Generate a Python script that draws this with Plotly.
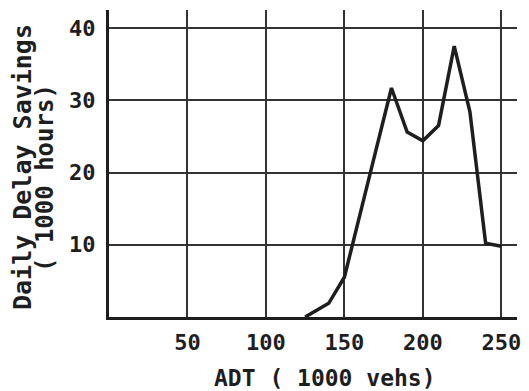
import plotly.graph_objects as go

# Data
adt = [125, 140, 150, 160, 170, 180, 190, 200, 210, 220, 230, 240, 250]
savings = [0.0, 1.9, 5.5, 14.5, 23.0, 31.7, 25.6, 24.4, 26.5, 37.5, 28.4, 10.2, 9.8]

x_ticks = [50, 100, 150, 200, 250]
y_ticks = [10, 20, 30, 40]

x_title = "ADT ( 1000 vehs)"
y_title_1 = "Daily Delay Savings"
y_title_2 = "( 1000 hours)"

FONT = "DejaVu Sans Mono"
INK = "#1e1e1e"

# The page body has an 8px default margin, so the figure is sized to fill
# the remaining 521x383 area of the 529x391 window.
fig = go.Figure()
fig.add_trace(go.Scatter(
    x=adt, y=savings, mode="lines",
    line=dict(color=INK, width=3.5),
    showlegend=False, hoverinfo="skip", cliponaxis=False,
))

fig.update_layout(
    width=521, height=383,
    margin=dict(l=101, r=12, t=2, b=74, autoexpand=False),
    paper_bgcolor="white", plot_bgcolor="white",
    font=dict(family=FONT, size=22, color=INK, weight="bold"),
    xaxis=dict(
        range=[0, 260], tickvals=x_ticks, ticktext=[str(v) for v in x_ticks],
        showgrid=True, gridcolor="#333333", gridwidth=2,
        zeroline=False, showline=True, linecolor=INK, linewidth=3,
        ticks="", ticklabelstandoff=4, automargin=False,
        tickfont=dict(family=FONT, size=22, color=INK, weight="bold"),
    ),
    yaxis=dict(
        range=[0, 42.5], tickvals=y_ticks, ticktext=[str(v) for v in y_ticks],
        showgrid=True, gridcolor="#333333", gridwidth=2,
        zeroline=False, showline=True, linecolor=INK, linewidth=3,
        ticks="", ticklabelstandoff=6, automargin=False,
        tickfont=dict(family=FONT, size=22, color=INK, weight="bold"),
    ),
    annotations=[
        dict(text=x_title, xref="paper", yref="paper",
             x=(325 - 109) / 408, y=-(378 - 317) / 307,
             xanchor="center", yanchor="middle", showarrow=False,
             font=dict(family=FONT, size=23, color=INK, weight="bold")),
        dict(text=y_title_1, xref="paper", yref="paper",
             x=-(109 - 22) / 408, y=(317 - 167) / 307, textangle=-90,
             xanchor="center", yanchor="middle", showarrow=False,
             font=dict(family=FONT, size=25, color=INK, weight="bold")),
        dict(text=y_title_2, xref="paper", yref="paper",
             x=-(109 - 45) / 408, y=(317 - 178) / 307, textangle=-90,
             xanchor="center", yanchor="middle", showarrow=False,
             font=dict(family=FONT, size=24, color=INK, weight="bold")),
    ],
)

fig.write_html("out.html")
